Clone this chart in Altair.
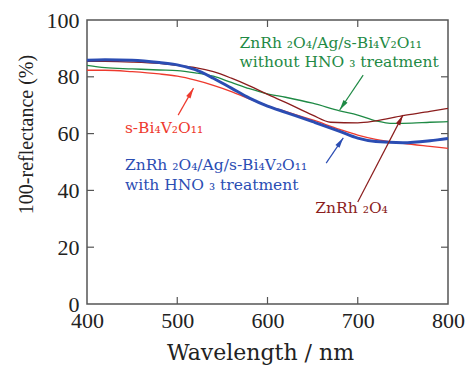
import altair as alt
import pandas as pd
import math

# ---- data ----
wl_blue = [400, 420, 450, 480, 500, 520, 540, 560, 580, 600, 620, 650, 680, 700, 720, 750, 780, 800]
v_blue = [85.8, 86.0, 85.8, 85.0, 84.2, 82.5, 79.5, 76.0, 72.5, 69.7, 67.5, 64.2, 60.8, 58.4, 57.2, 56.8, 57.5, 58.3]

wl_red = [400, 420, 450, 480, 500, 520, 540, 560, 580, 600, 620, 650, 680, 700, 720, 750, 780, 800]
v_red = [82.3, 82.3, 81.8, 81.0, 80.2, 78.8, 77.0, 74.8, 72.2, 69.8, 67.8, 64.8, 61.5, 59.5, 58.0, 56.6, 55.5, 54.8]

wl_green = [400, 420, 450, 480, 500, 520, 540, 560, 580, 600, 620, 650, 680, 700, 720, 740, 760, 780, 800]
v_green = [84.0, 83.2, 82.8, 82.4, 82.2, 81.4, 80.2, 78.0, 75.8, 74.0, 72.8, 70.7, 68.0, 66.5, 64.5, 63.6, 63.7, 64.0, 64.2]

wl_brown = [400, 420, 450, 480, 500, 520, 540, 560, 580, 600, 620, 650, 670, 700, 720, 750, 780, 800]
v_brown = [85.4, 85.4, 85.2, 84.7, 84.0, 83.2, 81.8, 79.5, 76.8, 73.8, 71.0, 66.5, 64.0, 63.8, 64.5, 66.3, 67.8, 68.9]

series_names = ["ZnRh2O4/Ag/s-Bi4V2O11 with HNO3", "s-Bi4V2O11", "ZnRh2O4/Ag/s-Bi4V2O11 without HNO3", "ZnRh2O4"]
colors = ["#2b4db3", "#ee3a2e", "#1f8a45", "#8b1d1d"]
widths = [3.0, 1.3, 1.3, 1.3]

x_ticks = [400, 500, 600, 700, 800]
y_ticks = [0, 20, 40, 60, 80, 100]

# annotation texts: (text, x, y, colour)
labels = [
    ("ZnRh \u2082O\u2084/Ag/s-Bi\u2084V\u2082O\u2081\u2081", 569, 92.0, colors[2]),
    ("without HNO \u2083 treatment", 569, 85.3, colors[2]),
    ("s-Bi\u2084V\u2082O\u2081\u2081", 442, 62.0, colors[1]),
    ("ZnRh \u2082O\u2084/Ag/s-Bi\u2084V\u2082O\u2081\u2081", 442, 49.0, colors[0]),
    ("with HNO \u2083 treatment", 442, 42.0, colors[0]),
    ("ZnRh \u2082O\u2084", 653, 33.8, colors[3]),
]

# arrows: tail (x, y) -> head (x, y), colour
arrows = [
    (706, 80.6, 680, 68.3, colors[2]),
    (501, 66.5, 518, 76.0, colors[1]),
    (665, 49.6, 684, 58.5, colors[0]),
    (700, 35.9, 750, 66.5, colors[3]),
]

W, H = 361, 284
XMIN, XMAX, YMIN, YMAX = 400, 800, 0, 100
px_x = W / (XMAX - XMIN)
px_y = H / (YMAX - YMIN)

rows = []
for name, wls, vals in zip(series_names,
                           [wl_blue, wl_red, wl_green, wl_brown],
                           [v_blue, v_red, v_green, v_brown]):
    for a, b in zip(wls, vals):
        rows.append({"series": name, "wl": a, "v": b})
df = pd.DataFrame(rows)

xs = alt.Scale(domain=[XMIN, XMAX], nice=False)
ys = alt.Scale(domain=[YMIN, YMAX], nice=False)
FONT = "Liberation Serif, Times New Roman, serif"
FONT2 = "DejaVu Serif, serif"

layers = []
order = [1, 2, 3, 0]
for i in order:
    sub = df[df.series == series_names[i]]
    layers.append(
        alt.Chart(sub).mark_line(color=colors[i], strokeWidth=widths[i], interpolate="monotone", clip=True)
        .encode(x=alt.X("wl:Q", scale=xs,
                        axis=alt.Axis(values=x_ticks, title="Wavelength / nm", ticks=False, domain=False,
                                      grid=False, labelFont=FONT, labelFontSize=22, labelColor="#222",
                                      labelPadding=6, titleFont=FONT2, titleFontSize=22,
                                      titleFontWeight="normal", titleColor="#222",
                                      titleX=173, titleY=60, titleBaseline="bottom",
                                      labelFlush=False)),
                y=alt.Y("v:Q", scale=ys,
                        axis=alt.Axis(values=y_ticks, title="100-reflectance (%)", ticks=False, domain=False,
                                      grid=False, labelFont=FONT, labelFontSize=22, labelColor="#222",
                                      labelPadding=8, titleFont=FONT, titleFontSize=20,
                                      titleFontWeight="normal", titleColor="#222",
                                      titleX=-55, titleY=114, titleAngle=270, titleBaseline="alphabetic",
                                      labelFlush=False)))
    )

# inward ticks on all four sides
tick_len_x = 7 / px_y
tick_len_y = 7 / px_x
tick_rows = []
for t in x_ticks[1:-1]:
    tick_rows.append({"x": t, "x2": t, "y": YMIN, "y2": YMIN + tick_len_x})
    tick_rows.append({"x": t, "x2": t, "y": YMAX, "y2": YMAX - tick_len_x})
for t in y_ticks[1:-1]:
    tick_rows.append({"x": XMIN, "x2": XMIN + tick_len_y, "y": t, "y2": t})
    tick_rows.append({"x": XMAX, "x2": XMAX - tick_len_y, "y": t, "y2": t})
ticks = alt.Chart(pd.DataFrame(tick_rows)).mark_rule(color="#555", strokeWidth=1.2).encode(
    x=alt.X("x:Q", scale=xs), x2="x2:Q", y=alt.Y("y:Q", scale=ys), y2="y2:Q")
layers.append(ticks)

# labels
lab_df = pd.DataFrame([{"t": t, "x": x, "y": y, "c": c} for t, x, y, c in labels])
text = alt.Chart(lab_df).mark_text(align="left", baseline="middle", font=FONT2, fontSize=15.5).encode(
    x=alt.X("x:Q", scale=xs), y=alt.Y("y:Q", scale=ys), text="t:N",
    color=alt.Color("c:N", scale=None))
layers.append(text)

# arrows
arr_rows = []
for x1, y1, x2, y2, c in arrows:
    dx = (x2 - x1) * px_x
    dy = -(y2 - y1) * px_y
    ang = math.degrees(math.atan2(dx, -dy)) % 360
    arr_rows.append({"x1": x1, "y1": y1, "x2": x2, "y2": y2, "c": c, "a": ang})
arr_df = pd.DataFrame(arr_rows)
shafts = alt.Chart(arr_df).mark_rule(strokeWidth=1.2).encode(
    x=alt.X("x1:Q", scale=xs), y=alt.Y("y1:Q", scale=ys), x2="x2:Q", y2="y2:Q",
    color=alt.Color("c:N", scale=None))
heads = alt.Chart(arr_df).mark_point(shape="M0,0L-0.45,1.9L0.45,1.9Z", filled=True, size=120, opacity=1).encode(
    x=alt.X("x2:Q", scale=xs), y=alt.Y("y2:Q", scale=ys), angle=alt.Angle("a:Q", scale=None),
    color=alt.Color("c:N", scale=None))
layers += [shafts, heads]

chart = alt.layer(*layers).properties(
    width=W, height=H,
    autosize=alt.AutoSizeParams(type="none"),
    padding={"left": 87, "top": 20, "right": 20, "bottom": 65},
    background="white",
).configure_view(stroke="#555", strokeWidth=1.5)

chart.save("out.html", embed_options={"renderer": "svg", "actions": False})
